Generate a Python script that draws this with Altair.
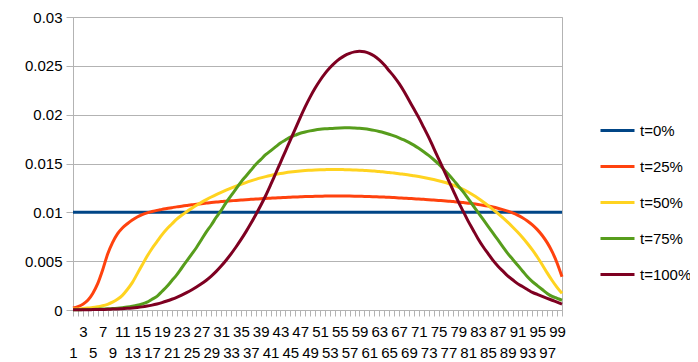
import altair as alt
import pandas as pd

categories = list(range(1, 101))

series_names = ["t=0%", "t=25%", "t=50%", "t=75%", "t=100%"]
series_colors = ["#004586", "#ff420e", "#ffd320", "#579d1c", "#7e0021"]

t0 = [0.01] * 100

t25 = [0.0002, 0.00035, 0.0006, 0.001, 0.0017, 0.0027, 0.0041, 0.0057, 0.0069, 0.0078,
       0.0084, 0.00883, 0.00921, 0.00952, 0.00976, 0.00995, 0.01008, 0.0102, 0.0103, 0.0104,
       0.01048, 0.01056, 0.01063, 0.0107, 0.01077, 0.01083, 0.01089, 0.01095, 0.011, 0.01105,
       0.0111, 0.01114, 0.01118, 0.01122, 0.01126, 0.0113, 0.01133, 0.01136, 0.01139, 0.01142,
       0.01145, 0.01148, 0.0115, 0.01153, 0.01155, 0.01157, 0.01159, 0.01161, 0.01162, 0.01164,
       0.01165, 0.01166, 0.01167, 0.01167, 0.01167, 0.01167, 0.01166, 0.01165, 0.01164, 0.01163,
       0.01162, 0.01160, 0.01158, 0.01156, 0.01154, 0.01151, 0.01148, 0.01145, 0.01142, 0.01139,
       0.01136, 0.01133, 0.0113, 0.01126, 0.01122, 0.01118, 0.01114, 0.0111, 0.01105, 0.011,
       0.01094, 0.01088, 0.01081, 0.01073, 0.01064, 0.01054, 0.01042, 0.01028, 0.01012, 0.00994,
       0.00972, 0.00945, 0.00912, 0.00872, 0.00823, 0.00763, 0.0069, 0.00598, 0.00482, 0.0034]

t50 = [0.0001, 0.0001, 0.00015, 0.0002, 0.00025, 0.00033, 0.00043, 0.00058, 0.0008, 0.0011,
       0.0015, 0.0021, 0.0028, 0.0037, 0.0046, 0.0055, 0.0063, 0.0070, 0.0077, 0.0083,
       0.0088, 0.0093, 0.0097, 0.01007, 0.0104, 0.01072, 0.01102, 0.0113, 0.01157, 0.01182,
       0.01205, 0.01227, 0.01248, 0.01268, 0.01287, 0.01305, 0.01322, 0.01338, 0.01353, 0.01366,
       0.01378, 0.01389, 0.01398, 0.01406, 0.01413, 0.01419, 0.01424, 0.01428, 0.01431, 0.01434,
       0.01436, 0.01437, 0.01438, 0.01438, 0.01438, 0.01437, 0.01436, 0.01434, 0.01432, 0.01429,
       0.01426, 0.01422, 0.01418, 0.01413, 0.01408, 0.01402, 0.01396, 0.01389, 0.01382, 0.01374,
       0.01366, 0.01357, 0.01347, 0.01336, 0.01324, 0.0131, 0.01295, 0.01278, 0.01258, 0.01235,
       0.01208, 0.01178, 0.01145, 0.01109, 0.01071, 0.01031, 0.00989, 0.00945, 0.00899, 0.0085,
       0.00798, 0.00742, 0.00681, 0.00615, 0.00543, 0.00464, 0.0038, 0.00302, 0.00232, 0.0017]

t75 = [0.00003, 0.00003, 0.00004, 0.00005, 0.00006, 0.00008, 0.0001, 0.00012, 0.00015, 0.00019,
       0.00024, 0.0003, 0.00038, 0.00048, 0.00062, 0.0008, 0.0011, 0.0014, 0.0019, 0.0024,
       0.0030, 0.0036, 0.0043, 0.0050, 0.0057, 0.0064, 0.0072, 0.0080, 0.0087, 0.0095,
       0.0102, 0.0110, 0.0117, 0.0124, 0.0131, 0.0137, 0.0143, 0.0149, 0.0154, 0.0159,
       0.0163, 0.0167, 0.0171, 0.0174, 0.0177, 0.0179, 0.0181, 0.01823, 0.01834, 0.01843,
       0.0185, 0.01855, 0.01859, 0.01862, 0.01864, 0.01865, 0.01865, 0.01863, 0.0186, 0.01855,
       0.01848, 0.01839, 0.01828, 0.01815, 0.018, 0.01783, 0.01763, 0.01741, 0.01716, 0.01688,
       0.01656, 0.01621, 0.01583, 0.01541, 0.01495, 0.01444, 0.0139, 0.01332, 0.0127, 0.0121,
       0.0114, 0.0107, 0.0100, 0.0093, 0.0086, 0.0079, 0.0072, 0.0065, 0.0058, 0.0052,
       0.0046, 0.0040, 0.0034, 0.0029, 0.0025, 0.0021, 0.0017, 0.0014, 0.0012, 0.0010]

t100 = [0.00002, 0.00002, 0.00003, 0.00003, 0.00004, 0.00005, 0.00006, 0.00007, 0.00009, 0.00011,
        0.00014, 0.00017, 0.00021, 0.00026, 0.00032, 0.0004, 0.0005, 0.00062, 0.00076, 0.00092,
        0.0011, 0.0013, 0.00153, 0.00178, 0.00205, 0.00235, 0.00268, 0.00305, 0.00347, 0.00395,
        0.0045, 0.0051, 0.00575, 0.00645, 0.0072, 0.008, 0.00885, 0.00975, 0.0107, 0.0117,
        0.0128, 0.01395, 0.0151, 0.01625, 0.0174, 0.01855, 0.0197, 0.0208, 0.0218, 0.0227,
        0.0235, 0.0242, 0.0248, 0.0253, 0.02572, 0.02605, 0.02628, 0.02643, 0.0265, 0.02645,
        0.02628, 0.026, 0.0256, 0.0251, 0.0245, 0.0239, 0.0232, 0.0224, 0.0215, 0.0206,
        0.0197, 0.0187, 0.0177, 0.0166, 0.0155, 0.0144, 0.0133, 0.0122, 0.0111, 0.0101,
        0.0091, 0.0082, 0.0073, 0.0065, 0.0058, 0.0051, 0.0045, 0.0040, 0.0035, 0.0031,
        0.0027, 0.0024, 0.0021, 0.0018, 0.0016, 0.0014, 0.0012, 0.0010, 0.0008, 0.0006]

y_ticks = [0, 0.005, 0.01, 0.015, 0.02, 0.025, 0.03]

rows = []
for name, vals in zip(series_names, [t0, t25, t50, t75, t100]):
    for c, v in zip(categories, vals):
        rows.append({"i": c, "v": v, "s": name})
df = pd.DataFrame(rows)

GRAY = "#b3b3b3"
FONT = "Liberation Sans"

x_label_expr = ("datum.value % 2 == 0 ? '' : "
                "(datum.value % 4 == 1 ? ['', datum.label] : datum.label)")

chart = alt.Chart(df).mark_line(strokeWidth=3, interpolate="monotone").encode(
    x=alt.X("i:Q",
            scale=alt.Scale(domain=[1, 100], nice=False, zero=False),
            axis=alt.Axis(values=categories, labelExpr=x_label_expr, title=None,
                          grid=False, tickSize=6, tickColor=GRAY, domainColor=GRAY,
                          labelOverlap=False, labelFlush=False, labelBound=False,
                          labelPadding=8, labelLineHeight=21, labelFontSize=15,
                          labelFont=FONT, labelColor="#000000")),
    y=alt.Y("v:Q",
            scale=alt.Scale(domain=[0, 0.03], nice=False),
            axis=alt.Axis(values=y_ticks, format="~g", title=None,
                          tickSize=7, tickColor=GRAY, domainColor=GRAY, gridColor=GRAY,
                          labelPadding=4, labelFontSize=15, labelFont=FONT,
                          labelColor="#000000")),
    color=alt.Color("s:N",
                    scale=alt.Scale(domain=series_names, range=series_colors),
                    legend=alt.Legend(orient="none", legendX=526, legendY=95, title=None,
                                      symbolType="stroke", symbolSize=1156,
                                      symbolStrokeWidth=3, labelFontSize=15,
                                      labelFont=FONT, labelColor="#000000",
                                      labelOffset=4, rowPadding=9, padding=0)),
).properties(
    width=489, height=293,
    autosize=alt.AutoSizeParams(type="none"),
    padding={"left": 65, "top": 9, "right": 128, "bottom": 60},
).configure_view(stroke=GRAY)

chart.save("out.html", embed_options={"renderer": "svg", "actions": False})
